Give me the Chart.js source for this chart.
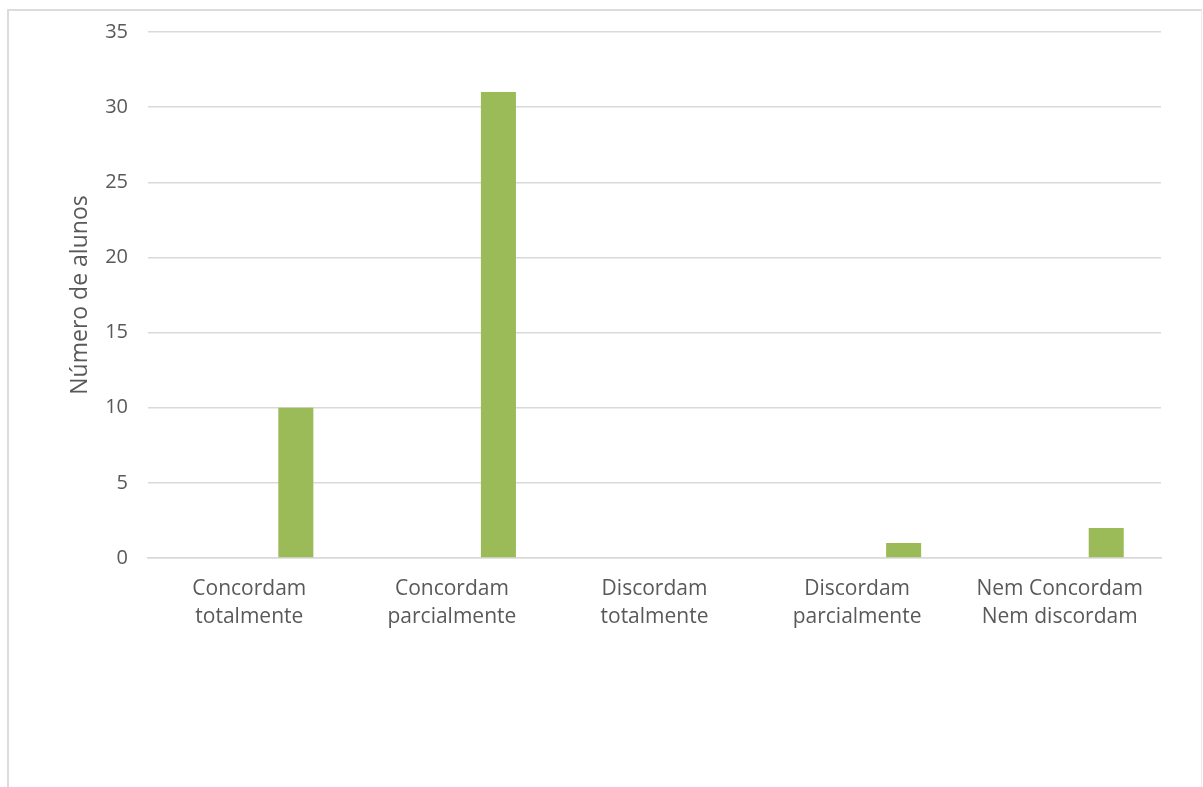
<!DOCTYPE html>
<html>
<head>
<meta charset="utf-8">
<script src="https://cdn.jsdelivr.net/npm/chart.js@4.4.0/dist/chart.umd.min.js"></script>
<style>
  html, body { margin: 0; padding: 0; background: #fff; }
  #wrap { position: relative; width: 1203px; height: 787px; overflow: hidden; }
  #frame {
    position: absolute; left: 7px; top: 9px; width: 1195px; height: 800px;
    border: 2px solid #dcdcdc; border-right: 1px solid #ececec; border-bottom: none;
    box-sizing: border-box;
  }
  canvas { position: absolute; left: 0; top: 0; }
</style>
</head>
<body>
<div id="wrap">
  <div id="frame"></div>
  <canvas id="chart" width="1203" height="787"></canvas>
</div>
<script>
// ===== Data =====
const categories = [
  ["Concordam", "totalmente"],
  ["Concordam", "parcialmente"],
  ["Discordam", "totalmente"],
  ["Discordam", "parcialmente"],
  ["Nem Concordam", "Nem discordam"]
];
// the first two series are empty in the original sheet, only the third has values
const serie1 = [null, null, null, null, null];
const serie2 = [null, null, null, null, null];
const alunos = [10, 31, 0, 1, 2];
const yTicks = [0, 5, 10, 15, 20, 25, 30, 35];

const textColor = "#595959";
const gridColor = "#d9d9d9";
const fontFamily = "'Open Sans', 'Noto Sans', sans-serif";

const ctx = document.getElementById("chart").getContext("2d");

new Chart(ctx, {
  type: "bar",
  data: {
    labels: categories,
    datasets: [
      { label: "Série 1", data: serie1, backgroundColor: "#4f81bd" },
      { label: "Série 2", data: serie2, backgroundColor: "#c0504d" },
      { label: "Número de alunos", data: alunos, backgroundColor: "#9bbb59" }
    ]
  },
  options: {
    responsive: false,
    animation: false,
    categoryPercentage: 0.689,
    barPercentage: 0.753,
    layout: { padding: { top: 31, right: 42, bottom: 139, left: 8 } },
    plugins: {
      legend: { display: false },
      tooltip: { enabled: false }
    },
    scales: {
      x: {
        grid: { display: false, drawTicks: false },
        border: { display: true, color: gridColor, width: 1.5 },
        ticks: {
          color: textColor,
          font: { family: fontFamily, size: 21, lineHeight: 1.38 },
          padding: 16,
          maxRotation: 0,
          autoSkip: false
        }
      },
      y: {
        min: 0,
        max: 35,
        afterFit: (scale) => { scale.width = 140; },
        afterBuildTicks: (scale) => { scale.ticks = yTicks.map(v => ({ value: v })); },
        grid: { color: gridColor, lineWidth: 1.5, drawTicks: false },
        border: { display: false },
        ticks: {
          color: textColor,
          font: { family: fontFamily, size: 20 },
          padding: 20
        },
        title: {
          display: true,
          text: "Número de alunos",
          color: textColor,
          font: { family: fontFamily, size: 23 },
          padding: { top: 59, bottom: 0 }
        }
      }
    }
  }
});
</script>
</body>
</html>
